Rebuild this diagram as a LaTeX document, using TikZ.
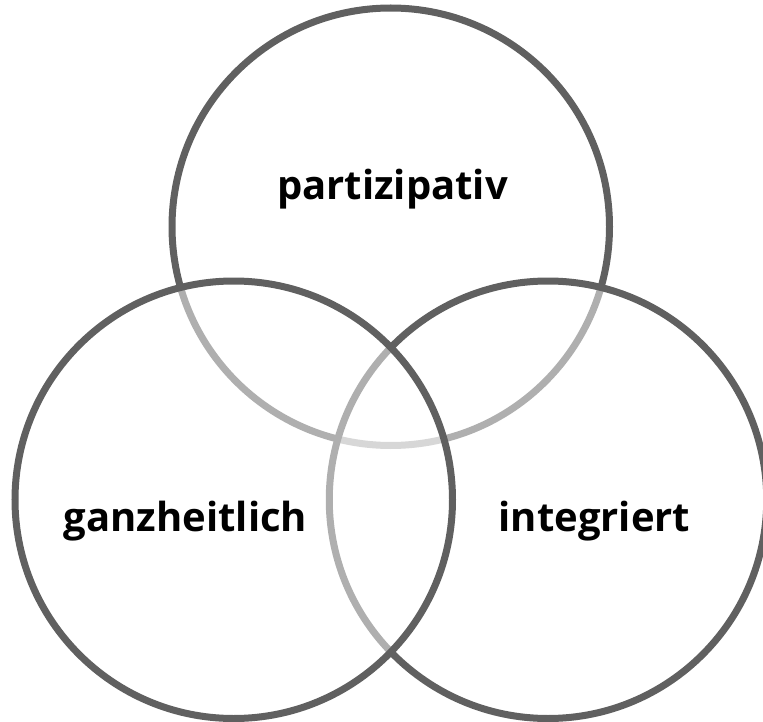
\documentclass[tikz,border=0pt]{standalone}
\usepackage{fontspec}
\setmainfont{Open Sans}
\definecolor{ringgray}{HTML}{606060}
\begin{document}
\begin{tikzpicture}[x=1pt,y=-1pt,
  ring/.style={circle, draw=ringgray, line width=7pt, fill=white, fill opacity=0.5, draw opacity=1, minimum size=437.5pt, inner sep=0pt, outer sep=0pt},
  lbl/.style={anchor=base, font=\fontsize{40}{48}\selectfont\bfseries, text=black, inner sep=0pt}]
\useasboundingbox (0,0) rectangle (763,722);
\clip (0,0) rectangle (763,722);
\node[ring] (top) at (390.75,226.75) {};
\node[ring] (right) at (548,499.75) {};
\node[ring] (left) at (233.75,499.75) {};
\node[lbl] (ltop) at (392.5,200) {partizipativ};
\node[lbl] (lleft) at (185.5,531) {ganzheitlich};
\node[lbl] (lright) at (594.5,531) {integriert};
\end{tikzpicture}
\end{document}
